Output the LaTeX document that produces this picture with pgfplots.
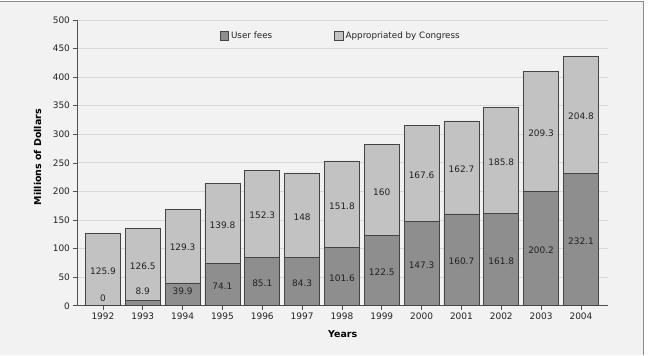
\documentclass[border=0pt]{standalone}
\usepackage{fontspec}
\setmainfont{DejaVu Sans}
\usepackage{pgfplots}
\usepackage{pgfplotstable}
\pgfplotsset{compat=1.18}

\definecolor{feefill}{HTML}{8E8E8E}
\definecolor{appfill}{HTML}{C2C2C2}
\definecolor{baredge}{HTML}{444444}
\definecolor{gridgray}{HTML}{D8D8D8}
\definecolor{panel}{HTML}{F2F2F2}
\definecolor{framegray}{HTML}{8C8C8C}
\definecolor{axisgray}{HTML}{505050}
\definecolor{labeltext}{HTML}{222222}

% Funding by fiscal year, millions of dollars
\pgfplotstableread{
x year fees  approp
0  1992 0     125.9
1  1993 8.9   126.5
2  1994 39.9  129.3
3  1995 74.1  139.8
4  1996 85.1  152.3
5  1997 84.3  148
6  1998 101.6 151.8
7  1999 122.5 160
8  2000 147.3 167.6
9  2001 160.7 162.7
10 2002 161.8 185.8
11 2003 200.2 209.3
12 2004 232.1 204.8
}\budget

\pgfplotsset{
  common frame/.style={
    at={(77bp,49bp)}, anchor=south west,
    scale only axis, width=531bp, height=286bp,
    xmin=-0.64, xmax=12.68, ymin=0, ymax=500,
  },
  swatch/.style={
    legend image code/.code={\draw[##1] (0bp,-4.3bp) rectangle (8.7bp,4.3bp);}
  },
}

\begin{document}
\begin{tikzpicture}
  \fill[panel] (0bp,0bp) rectangle (643bp,353bp);
  \draw[framegray, line width=1bp] (0bp,353bp) -- (643bp,353bp) -- (643bp,0bp);
  \useasboundingbox (0bp,0bp) rectangle (655bp,355bp);

  \begin{axis}[
    common frame,
    ybar stacked, bar width=35bp,
    axis x line*=bottom, axis y line*=left,
    axis line style={axisgray, line width=0.7bp},
    xtick={0,...,12},
    xticklabels from table={\budget}{year},
    ytick={0,50,...,500},
    /pgf/number format/assume math mode=true,
    tick align=outside, major tick length=4bp,
    tick style={axisgray, line width=0.6bp},
    ymajorgrids, grid style={gridgray, line width=0.8bp},
    ticklabel style={font=\fontsize{9}{10}\selectfont, text=labeltext},
    xlabel={\bfseries Years},
    ylabel={\bfseries Millions of Dollars},
    label style={font=\fontsize{9.5}{11}\selectfont, text=black},
    xlabel style={at={(axis description cs:0.5,-0.1)}, anchor=center},
    ylabel style={at={(axis description cs:-0.075,0.52)}, anchor=center},
    legend columns=2,
    legend style={at={(axis description cs:0.262,0.944)}, anchor=west,
      draw=none, fill=none, font=\fontsize{8.8}{10}\selectfont,
      text=labeltext,
      /tikz/every even column/.append style={column sep=60bp}},
  ]
    \addplot[swatch, fill=feefill, draw=baredge, line width=0.75bp]
      table[x=x, y=fees] {\budget};
    \addlegendentry{User fees}
    \addplot[swatch, fill=appfill, draw=baredge, line width=0.75bp]
      table[x=x, y=approp] {\budget};
    \addlegendentry{Appropriated by Congress}
  \end{axis}

  % value labels centred in each segment
  \begin{axis}[
    common frame, hide axis, clip=false,
  ]
    \addplot[draw=none, mark=none, nodes near coords,
      point meta=explicit symbolic,
      every node near coord/.append style={anchor=center,
        font=\fontsize{9}{10}\selectfont, text=labeltext}]
      table[x=x, y expr={\thisrow{fees}>0 ? max(\thisrow{fees}/2-3,25) : 14},
        meta=fees] {\budget};
    \addplot[draw=none, mark=none, nodes near coords,
      point meta=explicit symbolic,
      every node near coord/.append style={anchor=center,
        font=\fontsize{9}{10}\selectfont, text=labeltext}]
      table[x=x, y expr={\thisrow{fees}+\thisrow{approp}/2-3},
        meta=approp] {\budget};
  \end{axis}
\end{tikzpicture}
\end{document}
